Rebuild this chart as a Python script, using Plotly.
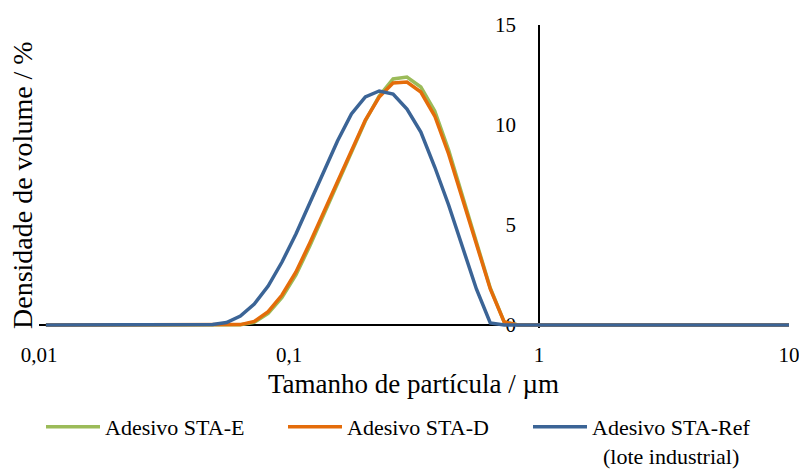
import plotly.graph_objects as go

# Particle size classes (µm), geometric mid-points of the laser-diffraction bins
size_um = [0.01066, 0.01212, 0.01377, 0.01565, 0.01778, 0.02021, 0.02297, 0.02610,
           0.02966, 0.03371, 0.03831, 0.04354, 0.04948, 0.05623, 0.06390, 0.07262,
           0.08253, 0.09376, 0.1066, 0.1211, 0.1376, 0.1563, 0.1777, 0.2020,
           0.2295, 0.2608, 0.2964, 0.3368, 0.3828, 0.4350, 0.4943, 0.5618,
           0.6384, 0.7256, 0.8245, 0.9369, 1.065, 1.210, 1.375, 1.563,
           1.776, 2.018, 2.294, 2.607, 2.962, 3.366, 3.826, 4.348,
           4.941, 5.615, 6.381, 7.252, 8.241, 9.363, 10.64]

sta_e = [0, 0, 0, 0, 0, 0, 0, 0, 0, 0, 0, 0, 0, 0, 0.01, 0.13,
         0.58, 1.38, 2.5, 3.95, 5.5, 7.05, 8.7, 10.2, 11.45, 12.3,
         12.4, 11.9, 10.7, 8.75, 6.45, 4.1, 1.85, 0.15, 0, 0,
         0, 0, 0, 0, 0, 0, 0, 0, 0, 0, 0, 0, 0, 0, 0, 0, 0, 0, 0]

sta_d = [0, 0, 0, 0, 0, 0, 0, 0, 0, 0, 0, 0, 0, 0, 0.02, 0.18,
         0.67, 1.5, 2.65, 4.1, 5.65, 7.15, 8.8, 10.25, 11.4, 12.1,
         12.15, 11.65, 10.45, 8.55, 6.3, 4.0, 1.8, 0.15, 0, 0,
         0, 0, 0, 0, 0, 0, 0, 0, 0, 0, 0, 0, 0, 0, 0, 0, 0, 0, 0]

sta_ref = [0, 0, 0, 0, 0, 0, 0, 0, 0, 0, 0, 0, 0.02, 0.12, 0.45, 1.05,
           1.95, 3.15, 4.55, 6.1, 7.65, 9.2, 10.55, 11.4, 11.7, 11.55,
           10.8, 9.65, 7.9, 6.0, 3.9, 1.8, 0.1, 0, 0, 0,
           0, 0, 0, 0, 0, 0, 0, 0, 0, 0, 0, 0, 0, 0, 0, 0, 0, 0, 0]

series_names = ["Adesivo STA-E", "Adesivo STA-D",
                "Adesivo STA-Ref<br>\u00a0\u00a0(lote industrial)"]
series_colors = ["#9BBB59", "#E46C0A", "#3B6496"]
legend_ids = ["legend", "legend2", "legend3"]

x_tickvals = [0.01, 0.1, 1, 10]
x_ticktext = ["0,01", "0,1", "1", "10"]
y_tickvals = [0, 5, 10, 15]

FONT = "Liberation Serif"

# plot area in pixels: x 39..789, y 25..328
PL, PW, PT, PH = 39, 750, 25, 303


def px_x(p):
    return (p - PL) / PW


def px_y(p):
    return (PT + PH - p) / PH


fig = go.Figure()
for name, ys, col, lg in zip(series_names, [sta_e, sta_d, sta_ref], series_colors, legend_ids):
    fig.add_trace(go.Scatter(x=size_um, y=ys, mode="lines", name=name, legend=lg,
                             line=dict(color=col, width=3.5)))

ITEM_W = 54
legend_common = dict(orientation="h", xanchor="left", yanchor="top",
                     font=dict(family=FONT, size=22, color="black"),
                     valign="top", bgcolor="rgba(0,0,0,0)", borderwidth=0,
                     itemwidth=ITEM_W)

LEG_TOP = 406
TXT_OFF = ITEM_W + 10

fig.update_layout(
    width=799, height=472,
    margin=dict(l=PL, r=799 - PL - PW, t=PT, b=472 - PT - PH, autoexpand=False),
    paper_bgcolor="white", plot_bgcolor="white",
    font=dict(family=FONT, color="black", size=21),
    showlegend=True,
    legend=dict(x=px_x(105 - TXT_OFF), y=px_y(LEG_TOP), **legend_common),
    legend2=dict(x=px_x(347 - TXT_OFF), y=px_y(LEG_TOP), **legend_common),
    legend3=dict(x=px_x(592 - TXT_OFF), y=px_y(LEG_TOP), **legend_common),
    xaxis=dict(type="log", range=[-2, 1], tickvals=x_tickvals, ticktext=x_ticktext,
               showgrid=False, zeroline=False, showline=False, ticks="",
               ticklabelstandoff=12, ticklabeloverflow="allow",
               tickfont=dict(family=FONT, size=21, color="black"),
               layer="below traces"),
    yaxis=dict(range=[-0.15, 15], tickvals=y_tickvals, showgrid=False,
               zeroline=True, zerolinecolor="black", zerolinewidth=1.6,
               showline=True, linecolor="black", linewidth=1.6,
               anchor="free", position=2/3, side="left", ticks="",
               ticklabelstandoff=18, ticklabeloverflow="allow",
               tickfont=dict(family=FONT, size=21, color="black"),
               layer="below traces"),
    annotations=[
        dict(text="Tamanho de partícula / µm", xref="paper", yref="paper",
             x=px_x(413.5), y=px_y(384), xanchor="center", yanchor="middle",
             showarrow=False, font=dict(family=FONT, size=27, color="black")),
        dict(text="Densidade de volume / %", xref="paper", yref="paper",
             x=px_x(23), y=px_y(185), xanchor="center", yanchor="middle",
             textangle=-90, showarrow=False,
             font=dict(family=FONT, size=28, color="black")),
    ],
)

fig.write_html("out.html")
